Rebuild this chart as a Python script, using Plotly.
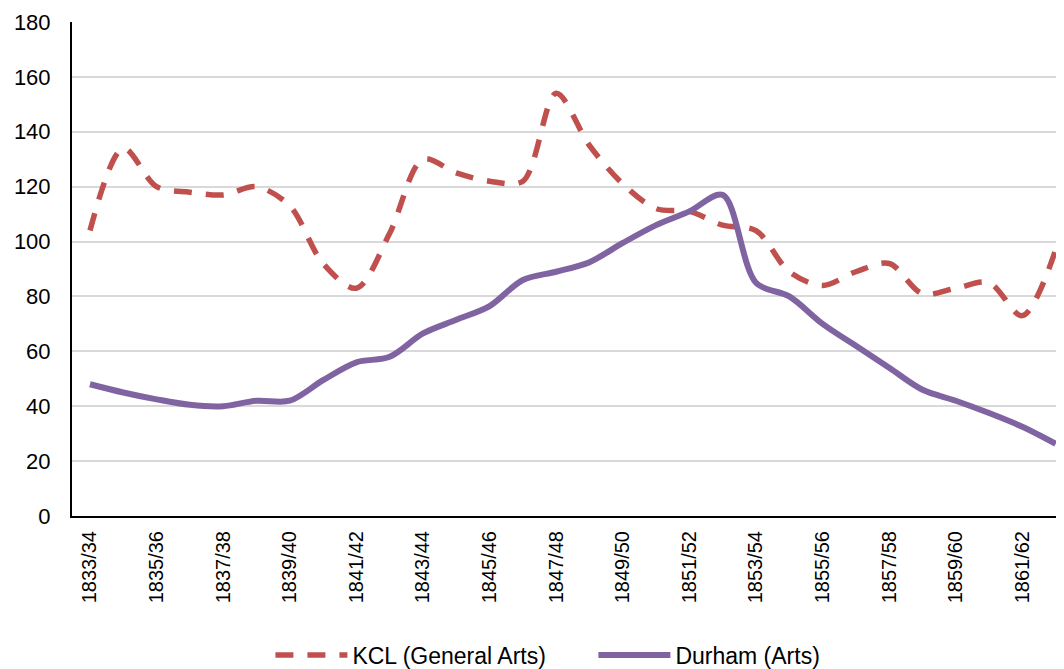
import plotly.graph_objects as go

years = ["1833/34","1834/35","1835/36","1836/37","1837/38","1838/39","1839/40","1840/41",
         "1841/42","1842/43","1843/44","1844/45","1845/46","1846/47","1847/48","1848/49",
         "1849/50","1850/51","1851/52","1852/53","1853/54","1854/55","1855/56","1856/57",
         "1857/58","1858/59","1859/60","1860/61","1861/62","1862/63"]

kcl = [104, 134, 120, 118, 117, 120, 113, 92, 83, 103, 130, 125, 122, 122, 154, 135,
       121, 112, 111, 106, 104, 89, 84, 89, 92, 81, 83, 85, 73, 97]

durham = [48, 45, 42.5, 40.5, 40, 42, 42, 49.5, 56, 58, 66.5, 71.5, 76.5, 86, 89, 92.5,
          99.5, 106, 111, 117, 85, 80, 70, 62, 54, 46, 42, 37.5, 32.5, 26.3]

tick_labels = years[::2]

fig = go.Figure()
fig.add_trace(go.Scatter(
    x=list(range(len(years))), y=kcl, name="KCL (General Arts)", mode="lines",
    line=dict(color="#C0504D", width=5.5, dash="18px,14px", shape="spline", smoothing=0.9)))
fig.add_trace(go.Scatter(
    x=list(range(len(years))), y=durham, name="Durham (Arts)", mode="lines",
    line=dict(color="#8064A2", width=6, shape="spline", smoothing=0.9)))

# page body has an 8px default margin, so the figure is sized to fit the window
fig.update_layout(
    width=1056, height=661,
    margin=dict(l=64, r=0, t=14, b=153, autoexpand=False),
    paper_bgcolor="white", plot_bgcolor="white",
    font=dict(family="Liberation Sans, Arial, sans-serif", color="black"),
    showlegend=True,
    legend=dict(orientation="h", x=0.2, xanchor="left",
                yref="container", y=0.021, yanchor="middle",
                font=dict(size=23), itemwidth=72, entrywidth=236,
                entrywidthmode="pixels", traceorder="normal"),
)
fig.update_xaxes(
    range=[-0.54, 29.25], automargin=False,
    tickmode="array", tickvals=list(range(0, len(years), 2)), ticktext=tick_labels,
    tickangle=-90, tickfont=dict(size=20), ticklabelstandoff=5,
    showgrid=False, showline=True, linecolor="black", linewidth=2,
    ticks="", zeroline=False,
)
fig.update_yaxes(
    range=[0, 180], dtick=20, tickfont=dict(size=22), automargin=False,
    showgrid=True, gridcolor="#D9D9D9", gridwidth=1.5,
    showline=True, linecolor="black", linewidth=2, ticks="", zeroline=False,
    ticklabelstandoff=15,
)

fig.write_html("out.html")
